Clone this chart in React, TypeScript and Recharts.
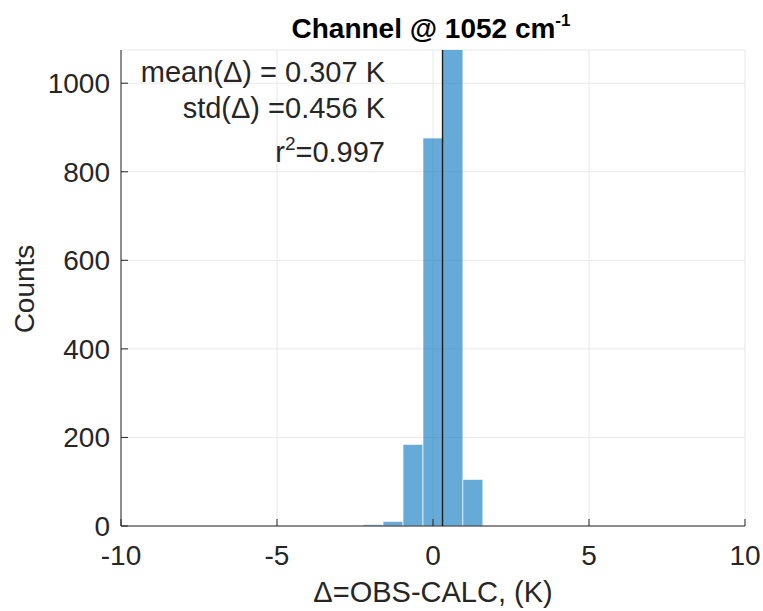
import { ComposedChart, Bar, XAxis, YAxis, CartesianGrid, ReferenceLine } from "recharts";

// histogram bins (centre of bin, K) and counts
const binCenters = [-1.92, -1.28, -0.64, 0, 0.64, 1.28];
const binCounts = [3, 10, 184, 876, 1180, 105];
const binWidth = 0.64;

const xTicks = [-10, -5, 0, 5, 10];
const yTicks = [0, 200, 400, 600, 800, 1000];
const meanDelta = 0.307;
const stats = ["mean(\u0394) = 0.307 K", "std(\u0394) =0.456 K", "0.997"];

const data = binCenters.map((x, i) => ({ x, count: binCounts[i] }));

const W = 763;
const H = 611;
const margin = { top: 50, right: 18, bottom: 0, left: 0 };
const yAxisW = 121;
const xAxisH = 85;
const plotW = W - margin.left - margin.right - yAxisW;
// a hair under the bin width in px, otherwise recharts shrinks the bars
const barPx = ((binWidth * plotW) / (xTicks[xTicks.length - 1] - xTicks[0])) * 0.995;

const font = "'Liberation Sans', Arial, Helvetica, sans-serif";
const axisColor = "#262626";
const tickStyle = { fontSize: 28, fill: axisColor, fontFamily: font };

export default function App() {
  return (
    <div style={{ position: "absolute", left: 0, top: 0, width: W, height: H, background: "#fff" }}>
      <ComposedChart width={W} height={H} data={data} margin={margin} barCategoryGap={0} barGap={0}>
        <CartesianGrid stroke="#e8e8e8" strokeWidth={1} />
        <XAxis
          dataKey="x" type="number" domain={[-10, 10]} ticks={xTicks}
          height={xAxisH} tick={tickStyle} tickSize={-7} tickMargin={26}
          stroke={axisColor} allowDataOverflow
        />
        <XAxis
          xAxisId="top" orientation="top" type="number" domain={[-10, 10]} ticks={xTicks}
          height={0} tickSize={-7} tickFormatter={() => ""} stroke={axisColor}
        />
        <YAxis
          type="number" domain={[0, 1075]} ticks={yTicks} width={yAxisW}
          tick={tickStyle} tickSize={-7} tickMargin={18} stroke={axisColor} allowDataOverflow
        />
        <YAxis
          yAxisId="right" orientation="right" type="number" domain={[0, 1075]} ticks={yTicks}
          width={0} tickSize={-7} tickFormatter={() => ""} stroke={axisColor}
        />
        <Bar
          dataKey="count" barSize={barPx} fill="#0072BD" fillOpacity={0.6}
          stroke="#ffffff" strokeWidth={0.8} strokeOpacity={0.7} isAnimationActive={false}
        />
        <ReferenceLine x={meanDelta} stroke="#1a1a1a" strokeWidth={1.5} />
      </ComposedChart>
      <svg
        width={W} height={H}
        style={{ position: "absolute", left: 0, top: 0, pointerEvents: "none" }}
        fontFamily={font}
      >
        <text x={431} y={38} textAnchor="middle" fontSize={28} fontWeight="bold" fill="#000">
          Channel @ 1052 cm<tspan dy={-12} fontSize={17}>-1</tspan>
        </text>
        <g fontSize={29} fill={axisColor} textAnchor="end">
          <text x={385} y={82}>{stats[0]}</text>
          <text x={385} y={118}>{stats[1]}</text>
          <text x={385} y={162}>
            r<tspan dy={-12} fontSize={19}>2</tspan>
            <tspan dy={12}>={stats[2]}</tspan>
          </text>
        </g>
        <text x={433} y={602} textAnchor="middle" fontSize={29} fill={axisColor}>
          {"\u0394=OBS-CALC, (K)"}
        </text>
        <text
          x={0} y={0} transform="translate(34,289) rotate(-90)"
          textAnchor="middle" fontSize={28} fill={axisColor}
        >
          Counts
        </text>
      </svg>
    </div>
  );
}
